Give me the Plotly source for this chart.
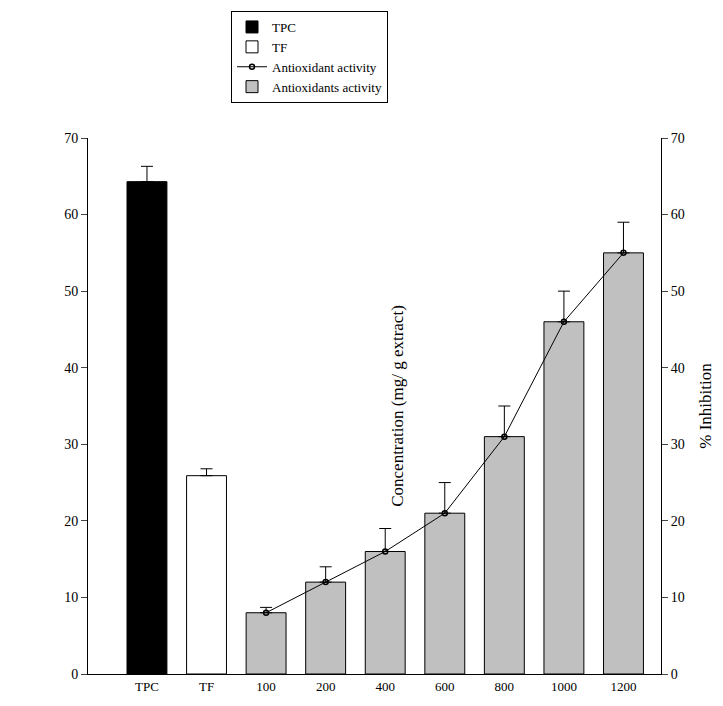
import plotly.graph_objects as go

categories = ["TPC", "TF", "100", "200", "400", "600", "800", "1000", "1200"]
tpc_val = [64.3]
tpc_err = [2.0]
tf_val = [25.9]
tf_err = [0.9]
conc = ["100", "200", "400", "600", "800", "1000", "1200"]
activity = [8.0, 12.0, 16.0, 21.0, 31.0, 46.0, 55.0]
activity_err = [0.7, 2.0, 3.0, 4.0, 4.0, 4.0, 4.0]

pos = {c: i for i, c in enumerate(categories)}
xc = [pos[c] for c in conc]
font = dict(family="Liberation Serif", size=15, color="black")
ebar = dict(type="data", symmetric=False, color="black", thickness=1, width=6)

fig = go.Figure()
fig.add_trace(go.Bar(x=[0], y=tpc_val, name="TPC", width=0.67, legendrank=1,
                     marker=dict(color="black", line=dict(color="black", width=1)),
                     error_y={**ebar, "array": tpc_err, "arrayminus": [0]}))
fig.add_trace(go.Bar(x=[1], y=tf_val, name="TF", width=0.67, legendrank=2,
                     marker=dict(color="white", line=dict(color="black", width=1)),
                     error_y={**ebar, "array": tf_err, "arrayminus": [0]}))
fig.add_trace(go.Bar(x=xc, y=activity, name="Antioxidants activity", width=0.67, legendrank=4,
                     marker=dict(color="#c0c0c0", line=dict(color="black", width=1)),
                     error_y={**ebar, "array": activity_err, "arrayminus": [0] * len(activity)},
                     yaxis="y2"))
fig.add_trace(go.Scatter(x=xc, y=activity, name="Antioxidant activity", mode="lines+markers",
                         legendrank=3, line=dict(color="black", width=1),
                         marker=dict(symbol="circle-open", size=5, color="black", line=dict(width=1.5)),
                         yaxis="y2"))

fig.update_layout(
    width=723, height=706, margin=dict(l=80, r=70, t=130, b=40, autoexpand=False),
    plot_bgcolor="white", paper_bgcolor="white", font=font, barmode="overlay",
    xaxis=dict(range=[-0.99, 8.63], tickvals=list(range(len(categories))), ticktext=categories,
               tickangle=0, showline=True, linecolor="black", ticks="", showgrid=False,
               zeroline=False, tickfont=dict(size=13)),
    yaxis=dict(range=[0, 70], dtick=10, title=dict(text="Concentration (mg/ g extract)", font=dict(size=17)),
               showline=True, linecolor="black", ticks="outside", ticklen=6, showgrid=False,
               zeroline=False, tickfont=dict(size=14)),
    yaxis2=dict(range=[0, 70], dtick=10, overlaying="y", side="right",
                title=dict(text="% Inhibition", font=dict(size=17)),
                showline=True, linecolor="black", ticks="outside", ticklen=6, showgrid=False,
                zeroline=False, tickfont=dict(size=14)),
    legend=dict(x=223/723, y=1 - 3/706, xanchor="left", yanchor="top", xref="container", yref="container",
                bordercolor="black", borderwidth=1, bgcolor="white", font=dict(size=13)),
    showlegend=True,
)
fig.write_html("out.html")
